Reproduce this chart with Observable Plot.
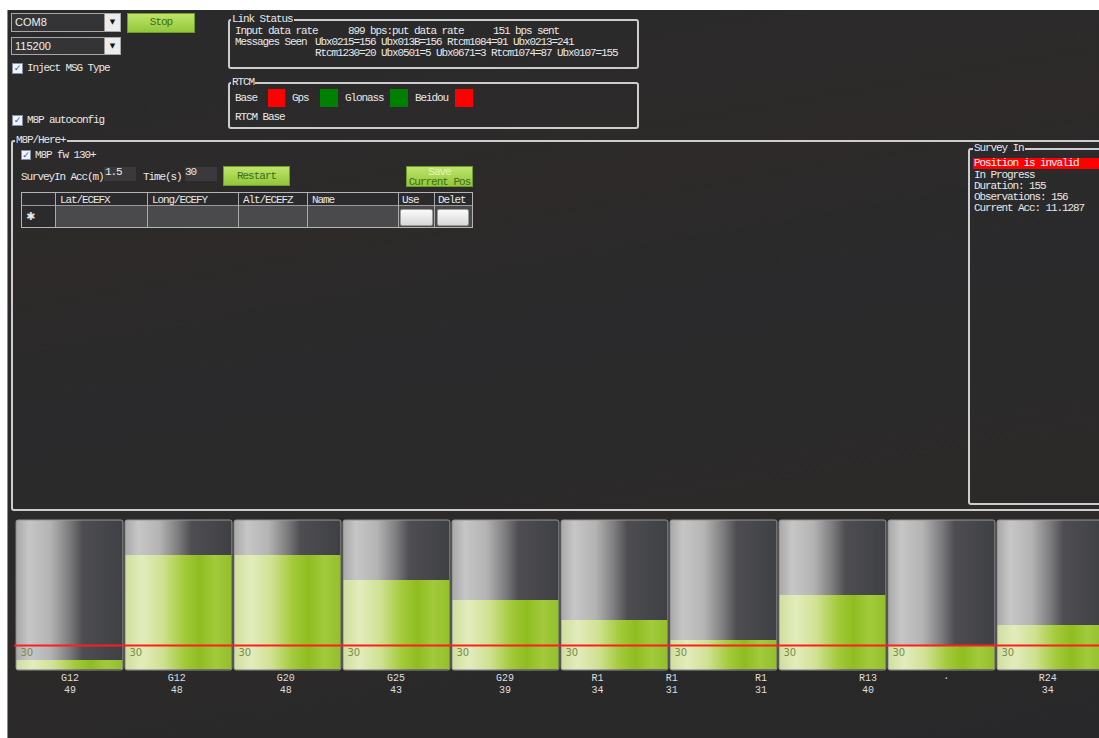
<!DOCTYPE html>
<html>
<head>
<meta charset="utf-8">
<script src="https://cdn.jsdelivr.net/npm/d3@7"></script>
<script src="https://cdn.jsdelivr.net/npm/@observablehq/plot@0.6"></script>
<style>
html,body{margin:0;padding:0;background:#fff;overflow:hidden;width:1099px;height:738px;position:relative}
#bg{position:absolute;left:7px;top:10px;width:1092px;height:728px;background:linear-gradient(170deg,#2a2a2c 0%,#2d2a29 30%,#2a2a2c 45%,#2c2a29 70%,#28282a 100%);border-left:1px solid #8a8a8a;box-sizing:border-box;overflow:hidden}
.t{position:absolute;font-family:"Liberation Mono",monospace;font-size:11px;letter-spacing:-1.1px;color:#e8e8e8;white-space:pre;line-height:12px;height:12px}
.frame{position:absolute;border:2px solid #cdcdcd;border-radius:3px;box-sizing:border-box}
.ttl{background:#2a2a2c;padding:0 1px}
.btn{position:absolute;background:linear-gradient(#bfe46a,#92c73a);border:1px solid #6e9c2c;box-sizing:border-box;color:#3b6f15;text-align:center;font-family:"Liberation Mono",monospace;font-size:11px;letter-spacing:-1px;white-space:pre}
.chk{position:absolute;width:10px;height:10px;background:#f2f4f8;border:1px solid #8090a8;box-sizing:border-box;color:#2456c8;font:bold 9px "DejaVu Sans";line-height:9px;text-align:center}
.combo{position:absolute;background:#343436;border:1px solid #a8a8a8;box-sizing:border-box;color:#f0f0f0;font:11px "Liberation Sans";line-height:16px;padding-left:3px}
.drop{position:absolute;right:0;top:0;bottom:0;width:16px;background:#ececec;border-left:1px solid #999;box-sizing:border-box;color:#111;font:7px "DejaVu Sans";line-height:16px;text-align:center}
.cell{position:absolute;box-sizing:border-box}
.ubtn{position:absolute;background:linear-gradient(#fafafa,#d8d8d8);border:1px solid #9a9a9a;border-radius:2px;box-sizing:border-box}
#chart{position:absolute;left:0;top:512px}
</style>
</head>
<body>
<div id="bg"></div>

<!-- serial controls -->
<div class="combo" style="left:11px;top:13px;width:110px;height:19px">COM8<div class="drop">▼</div></div>
<div class="combo" style="left:11px;top:37px;width:110px;height:18px">115200<div class="drop">▼</div></div>
<div class="btn" style="left:127px;top:13px;width:68px;height:20px;line-height:17px">Stop</div>
<div class="chk" style="left:12px;top:63px;width:11px;height:11px">✓</div>
<div class="t" style="left:27px;top:62px">Inject MSG Type</div>
<div class="chk" style="left:12px;top:115px;width:11px;height:11px">✓</div>
<div class="t" style="left:27px;top:114px">M8P autoconfig</div>

<!-- Link Status -->
<div class="frame" style="left:228px;top:19px;width:411px;height:50px"></div>
<div class="t ttl" style="left:231px;top:13px">Link Status</div>
<div class="t" style="left:235px;top:25px">Input data rate</div>
<div class="t" style="left:348px;top:25px">899 bps:put data rate</div>
<div class="t" style="left:493px;top:25px">151 bps sent</div>
<div class="t" style="left:235px;top:36px">Messages Seen</div>
<div class="t" style="left:315px;top:36px">Ubx0215=156 Ubx013B=156 Rtcm1084=91 Ubx0213=241</div>
<div class="t" style="left:315px;top:47px">Rtcm1230=20 Ubx0501=5 Ubx0671=3 Rtcm1074=87 Ubx0107=155</div>

<!-- RTCM -->
<div class="frame" style="left:228px;top:82px;width:411px;height:47px"></div>
<div class="t ttl" style="left:231px;top:76px">RTCM</div>
<div class="t" style="left:235px;top:92px">Base</div>
<div class="cell" style="left:268px;top:89px;width:17px;height:18px;background:#ff0000"></div>
<div class="t" style="left:292px;top:92px">Gps</div>
<div class="cell" style="left:320px;top:89px;width:18px;height:18px;background:#008000"></div>
<div class="t" style="left:345px;top:92px">Glonass</div>
<div class="cell" style="left:390px;top:89px;width:18px;height:18px;background:#008000"></div>
<div class="t" style="left:415px;top:92px">Beidou</div>
<div class="cell" style="left:455px;top:89px;width:18px;height:18px;background:#ff0000"></div>
<div class="t" style="left:235px;top:111px">RTCM Base</div>

<!-- M8P / Here+ -->
<div class="frame" style="left:11px;top:140px;width:1100px;height:371px;border-radius:3px"></div>
<div class="t ttl" style="left:15px;top:134px">M8P/Here+</div>
<div class="chk" style="left:21px;top:150px">✓</div>
<div class="t" style="left:35px;top:149px">M8P fw 130+</div>
<div class="t" style="left:21px;top:171px">SurveyIn Acc(m)</div>
<div class="cell" style="left:104px;top:167px;width:32px;height:14px;background:#3a3a3c"></div>
<div class="t" style="left:105px;top:166px">1.5</div>
<div class="t" style="left:143px;top:171px">Time(s)</div>
<div class="cell" style="left:185px;top:167px;width:32px;height:14px;background:#3a3a3c"></div>
<div class="t" style="left:185px;top:166px">30</div>
<div class="btn" style="left:223px;top:166px;width:67px;height:20px;line-height:18px">Restart</div>
<div class="btn" style="left:406px;top:166px;width:67px;height:21px;line-height:10px;overflow:hidden"><span style="color:#e6f4b8">Save</span>
Current Pos</div>

<!-- table -->
<div class="cell" style="left:21px;top:192px;width:452px;height:36px;background:#4a4a4c;border:1px solid #b4b4b4"></div>
<div class="cell" style="left:22px;top:193px;width:450px;height:13px;background:#2b2b2d;border-bottom:1px solid #9a9a9a"></div>
<div class="cell" style="left:22px;top:206px;width:33px;height:21px;background:#2b2b2d"></div>
<div class="cell" style="left:55px;top:193px;width:1px;height:34px;background:#aaa"></div>
<div class="cell" style="left:147px;top:193px;width:1px;height:34px;background:#aaa"></div>
<div class="cell" style="left:238px;top:193px;width:1px;height:34px;background:#aaa"></div>
<div class="cell" style="left:307px;top:193px;width:1px;height:34px;background:#aaa"></div>
<div class="cell" style="left:398px;top:193px;width:1px;height:34px;background:#aaa"></div>
<div class="cell" style="left:434px;top:193px;width:1px;height:34px;background:#aaa"></div>
<div class="t" style="left:60px;top:194px">Lat/ECEFX</div>
<div class="t" style="left:152px;top:194px">Long/ECEFY</div>
<div class="t" style="left:243px;top:194px">Alt/ECEFZ</div>
<div class="t" style="left:312px;top:194px">Name</div>
<div class="t" style="left:402px;top:194px">Use</div>
<div class="t" style="left:438px;top:194px">Delet</div>
<div class="t" style="left:26px;top:211px;font-family:'DejaVu Sans';font-size:11px;letter-spacing:0">✱</div>
<div class="ubtn" style="left:400px;top:209px;width:33px;height:17px"></div>
<div class="ubtn" style="left:437px;top:209px;width:32px;height:17px"></div>

<!-- Survey In -->
<div class="frame" style="left:968px;top:148px;width:150px;height:357px"></div>
<div class="t ttl" style="left:973px;top:142px">Survey In</div>
<div class="cell" style="left:973px;top:158px;width:130px;height:11px;background:#ff0000"></div>
<div class="t" style="left:974px;top:157px;color:#fff">Position is invalid</div>
<div class="t" style="left:974px;top:169px">In Progress</div>
<div class="t" style="left:974px;top:180px">Duration: 155</div>
<div class="t" style="left:974px;top:191px">Observations: 156</div>
<div class="t" style="left:974px;top:202px">Current Acc: 11.1287</div>

<div id="chart"></div>

<script>
// ---- data ----
const barSlots = [0, 1, 2, 3, 4, 5, 6, 7, 8, 9];
const barSnr   = [27, 48, 48, 43, 39, 35, 31, 40, 30, 34];
const threshold = 30;
const snrRange = [25, 55];

const labelNames = ["G12", "G12", "G20", "G25", "G29", "R1", "R1", "R1", "R13", "·", "R24"];
const labelSnr   = ["49", "48", "48", "43", "39", "34", "31", "31", "40", "", "34"];
const labelSlots = [0, 0.98, 1.98, 2.99, 3.99, 4.84, 5.52, 6.34, 7.32, 8.04, 8.97];

const bars = barSlots.map((s, i) => ({slot: s, snr: barSnr[i]}));
const labels = labelNames.map((n, i) => ({name: n, snr: labelSnr[i], slot: labelSlots[i]}));

const gradients = () => {
  const defs = d3.create("svg:defs");
  const g1 = defs.append("linearGradient").attr("id", "bgGrad").attr("x1", 0).attr("x2", 1).attr("y1", 0).attr("y2", 0);
  [[0, "#a8a8aa"], [0.12, "#c6c6c6"], [0.32, "#b4b4b4"], [0.5, "#7c7c7e"], [0.62, "#4e4e52"], [1, "#3f4044"]]
    .forEach(([o, c]) => g1.append("stop").attr("offset", o).attr("stop-color", c));
  const g2 = defs.append("linearGradient").attr("id", "greenGrad").attr("x1", 0).attr("x2", 1).attr("y1", 0).attr("y2", 0);
  [[0, "#cfdf9e"], [0.15, "#e2ecbc"], [0.35, "#d0e192"], [0.55, "#a3ca3a"], [0.7, "#8fbd20"], [0.85, "#a2ca3c"], [1, "#93c02a"]]
    .forEach(([o, c]) => g2.append("stop").attr("offset", o).attr("stop-color", c));
  return defs.node();
};

const chart = Plot.plot({
  width: 1099,
  height: 226,
  marginTop: 8,
  marginBottom: 68,
  marginLeft: 14,
  marginRight: 0,
  style: {background: "transparent", fontFamily: "Liberation Mono, monospace"},
  x: {type: "linear", domain: [-0.5, 9.5], range: [15, 1105], axis: null},
  y: {domain: snrRange, axis: null},
  marks: [
    gradients,
    Plot.rect(bars, {x1: d => d.slot - 0.49, x2: d => d.slot + 0.49, y1: snrRange[0], y2: snrRange[1],
      fill: "url(#bgGrad)", stroke: "#959595", strokeWidth: 1, rx: 2}),
    Plot.rect(bars, {x1: d => d.slot - 0.485, x2: d => d.slot + 0.485, y1: snrRange[0], y2: "snr",
      fill: "url(#greenGrad)", insetBottom: 1}),
    Plot.ruleY([threshold], {stroke: "#ff1e1e", strokeWidth: 2}),
    Plot.text(bars, {x: d => d.slot - 0.455, y: threshold, text: () => String(threshold),
      textAnchor: "start", lineAnchor: "top", dy: 3, fill: "#7b8a48", fontSize: 10, fontFamily: "DejaVu Sans"}),
    Plot.text(labels, {x: "slot", y: snrRange[0], text: d => d.name + "\n" + d.snr,
      lineAnchor: "top", dy: 2, lineHeight: 1.2, fill: "#dedede", fontSize: 10})
  ]
});
document.getElementById("chart").appendChild(chart);
</script>
</body>
</html>
